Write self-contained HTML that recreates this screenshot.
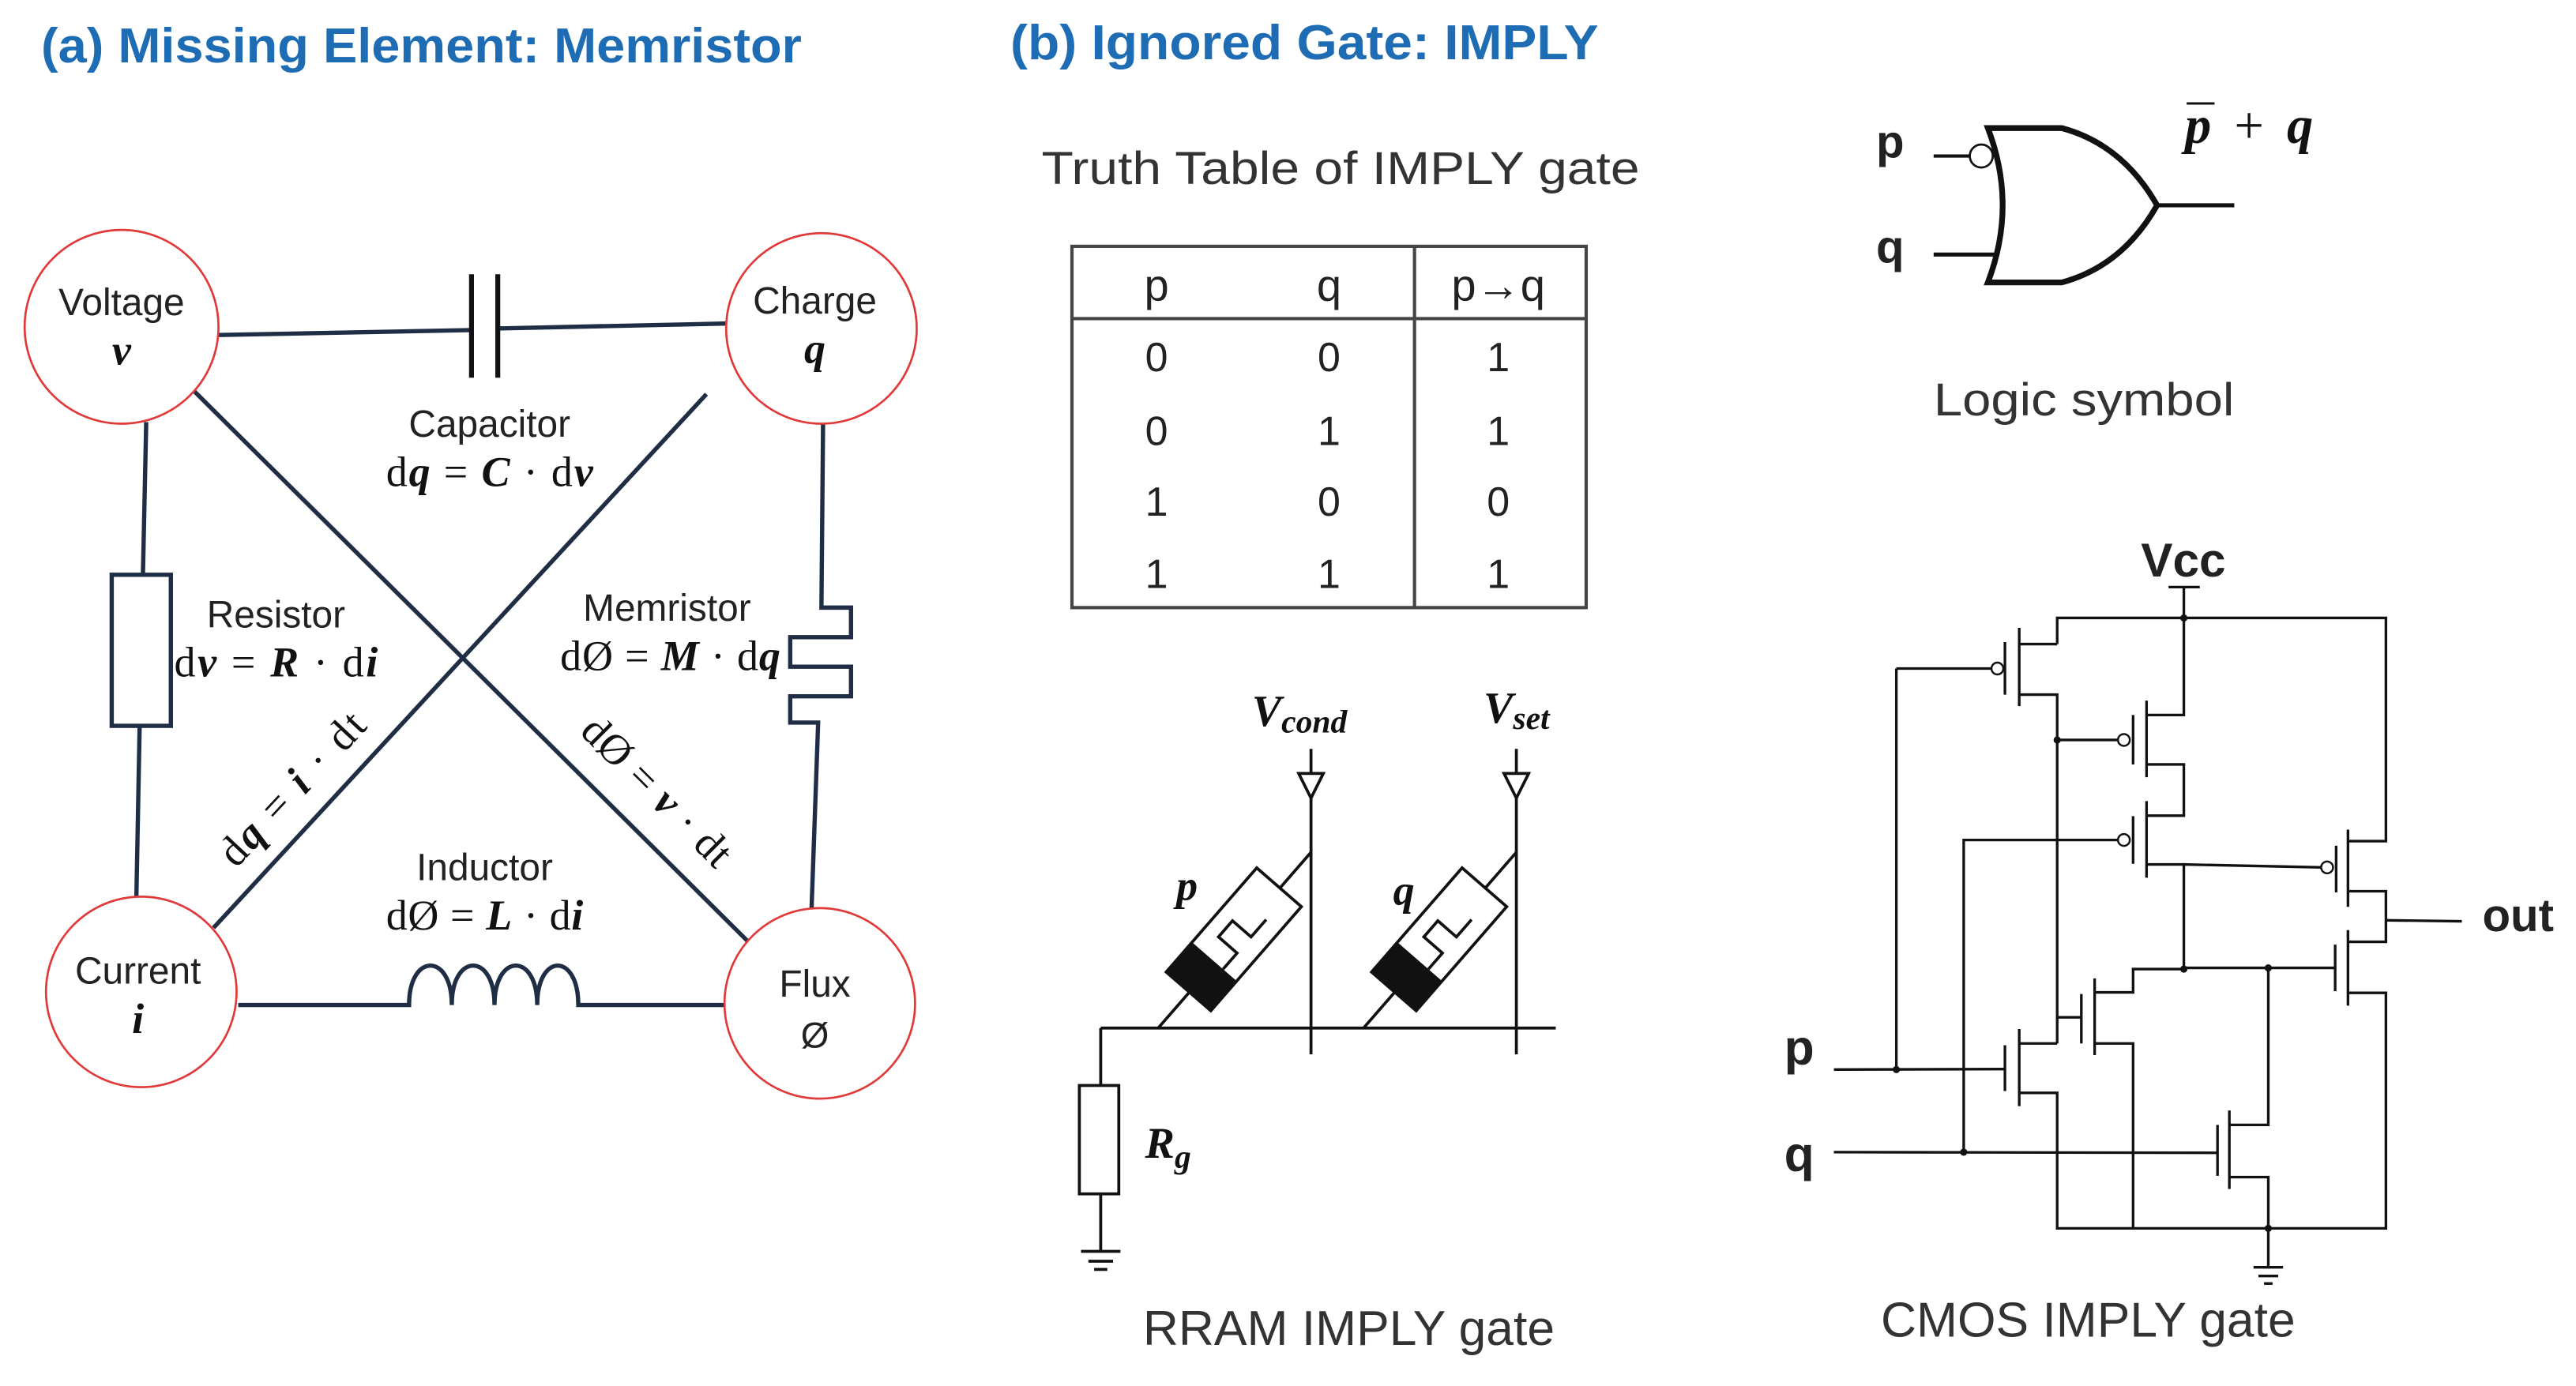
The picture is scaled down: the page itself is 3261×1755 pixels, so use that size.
<!DOCTYPE html>
<html><head><meta charset="utf-8"><style>
html,body{margin:0;padding:0;background:#fff;}
svg{display:block;}
.t{font-family:"Liberation Sans",sans-serif;fill:#222;}
.m{font-family:"Liberation Serif",serif;fill:#111;}
</style></head><body>
<svg width="3261" height="1755" viewBox="0 0 1568 844" xmlns="http://www.w3.org/2000/svg" preserveAspectRatio="none">
<rect width="1568" height="844" fill="#fff"/>
<!-- Titles -->
<text x="25" y="38" class="t" style="fill:#1e6db4;font-size:30px;font-weight:bold" textLength="463" lengthAdjust="spacingAndGlyphs">(a) Missing Element: Memristor</text>
<text x="615" y="36" class="t" style="fill:#1e6db4;font-size:30px;font-weight:bold" textLength="358" lengthAdjust="spacingAndGlyphs">(b) Ignored Gate: IMPLY</text>

<!-- Panel a lines -->
<g stroke="#1f2d45" stroke-width="2.6" fill="none">
<line x1="133" y1="204" x2="287" y2="201"/>
<line x1="303" y1="200" x2="442" y2="197"/>
<line x1="89" y1="257" x2="87" y2="350"/>
<rect x="68" y="350" width="36" height="92"/>
<line x1="85" y1="442" x2="83" y2="547"/>
<path d="M501,257 L500,370 H518 V388 H481 V406 H518 V424 H481 V440 H498 L494,553"/>
<line x1="118" y1="238" x2="455" y2="573"/>
<line x1="430" y1="240" x2="130" y2="565"/>
<path d="M145,612 H249 C249,580 275,580 275,612 C275,580 301,580 301,612 C301,580 327,580 327,612 C327,580 352,580 352,612 H441"/>
</g>
<g stroke="#111" stroke-width="3"><line x1="287" y1="167" x2="287" y2="230"/><line x1="303" y1="167" x2="303" y2="230"/></g>
<g stroke="#e03a3a" stroke-width="1.3" fill="#fff">
<ellipse cx="74" cy="199" rx="59" ry="59"/>
<ellipse cx="500" cy="200" rx="58" ry="58"/>
<ellipse cx="86" cy="604" rx="58" ry="58"/>
<ellipse cx="499" cy="611" rx="58" ry="58"/>
</g>
<g text-anchor="middle">
<text x="74" y="192" class="t" style="font-size:23px">Voltage</text>
<text x="74" y="222" class="m" style="font-size:26px;font-weight:bold;font-style:italic">v</text>
<text x="496" y="191" class="t" style="font-size:23px">Charge</text>
<text x="496" y="221" class="m" style="font-size:26px;font-weight:bold;font-style:italic">q</text>
<text x="84" y="599" class="t" style="font-size:23px">Current</text>
<text x="84" y="629" class="m" style="font-size:26px;font-weight:bold;font-style:italic">i</text>
<text x="496" y="607" class="t" style="font-size:23px">Flux</text>
<text x="496" y="638" class="t" style="font-size:22px">Ø</text>
<text x="298" y="266" class="t" style="font-size:23px">Capacitor</text>
<text x="298" y="296" class="m" style="font-size:26px" textLength="126" lengthAdjust="spacing">d<tspan font-weight="bold" font-style="italic">q</tspan> = <tspan font-weight="bold" font-style="italic">C</tspan> · d<tspan font-weight="bold" font-style="italic">v</tspan></text>
<text x="168" y="382" class="t" style="font-size:23px">Resistor</text>
<text x="168" y="412" class="m" style="font-size:26px" textLength="124" lengthAdjust="spacing">d<tspan font-weight="bold" font-style="italic">v</tspan> = <tspan font-weight="bold" font-style="italic">R</tspan> · d<tspan font-weight="bold" font-style="italic">i</tspan></text>
<text x="406" y="378" class="t" style="font-size:23px">Memristor</text>
<text x="408" y="408" class="m" style="font-size:26px" textLength="134" lengthAdjust="spacing">dØ = <tspan font-weight="bold" font-style="italic">M</tspan> · d<tspan font-weight="bold" font-style="italic">q</tspan></text>
<text x="295" y="536" class="t" style="font-size:23px">Inductor</text>
<text x="295" y="566" class="m" style="font-size:26px" textLength="120" lengthAdjust="spacing">dØ = <tspan font-weight="bold" font-style="italic">L</tspan> · d<tspan font-weight="bold" font-style="italic">i</tspan></text>
<text x="0" y="0" class="m" style="font-size:26px" transform="translate(184,486) rotate(-47)" textLength="118" lengthAdjust="spacing">d<tspan font-weight="bold" font-style="italic">q</tspan> = <tspan font-weight="bold" font-style="italic">i</tspan> · dt</text>
<text x="0" y="0" class="m" style="font-size:26px" transform="translate(394,488) rotate(45)" textLength="118" lengthAdjust="spacing">dØ = <tspan font-weight="bold" font-style="italic">v</tspan> · dt</text>
</g>

<!-- Truth table -->
<text x="634" y="112" class="t" style="font-size:28px;fill:#333" textLength="364" lengthAdjust="spacingAndGlyphs">Truth Table of IMPLY gate</text>
<g stroke="#444" stroke-width="2" fill="none">
<rect x="652.5" y="150" width="313" height="220"/>
<line x1="652" y1="194" x2="966" y2="194"/>
<line x1="861" y1="150" x2="861" y2="370"/>
</g>
<g class="t" style="font-size:25px" text-anchor="middle">
<text x="704" y="183" style="font-size:27px">p</text><text x="809" y="183" style="font-size:27px">q</text><text x="912" y="183" style="font-size:27px">p→q</text>
<text x="704" y="226">0</text><text x="809" y="226">0</text><text x="912" y="226">1</text>
<text x="704" y="271">0</text><text x="809" y="271">1</text><text x="912" y="271">1</text>
<text x="704" y="314">1</text><text x="809" y="314">0</text><text x="912" y="314">0</text>
<text x="704" y="358">1</text><text x="809" y="358">1</text><text x="912" y="358">1</text>
</g>

<!-- Logic symbol -->
<g stroke="#111" fill="none">
<path d="M1210,78 H1255 Q1292,88 1313,125 Q1292,162 1255,172 H1210 Q1228,125 1210,78 Z" stroke-width="3.5"/>
<line x1="1313" y1="125" x2="1360" y2="125" stroke-width="2.5"/>
<line x1="1177" y1="95" x2="1199" y2="95" stroke-width="2"/>
<line x1="1177" y1="155" x2="1216" y2="155" stroke-width="2.5"/>
<circle cx="1206" cy="95" r="7" stroke-width="1.3" fill="#fff"/>
</g>
<text x="1142" y="96" class="t" style="font-size:28px;font-weight:bold">p</text>
<text x="1142" y="160" class="t" style="font-size:28px;font-weight:bold">q</text>
<text x="1330" y="87" class="m" style="font-size:32px;font-weight:bold;font-style:italic" textLength="78" lengthAdjust="spacing">p <tspan font-style="normal" font-weight="normal">+</tspan> q</text>
<line x1="1331" y1="63" x2="1348" y2="63" stroke="#111" stroke-width="1.5"/>
<text x="1177" y="253" class="t" style="font-size:28px;fill:#333" textLength="183" lengthAdjust="spacingAndGlyphs">Logic symbol</text>

<!-- RRAM -->
<g stroke="#111" stroke-width="1.8" fill="none">
<line x1="798" y1="456" x2="798" y2="642"/>
<line x1="923" y1="456" x2="923" y2="642"/>
<polygon points="790.5,471 805.5,471 798,486" fill="#fff"/>
<polygon points="915.5,471 930.5,471 923,486" fill="#fff"/>
<line x1="670" y1="626" x2="947" y2="626"/>
<line x1="670" y1="626" x2="670" y2="661"/>
<rect x="657" y="661" width="24" height="66"/>
<line x1="670" y1="727" x2="670" y2="762"/>
<line x1="658" y1="762" x2="682" y2="762"/>
<line x1="662.5" y1="768" x2="677.5" y2="768"/>
<line x1="666" y1="773" x2="674" y2="773"/>
<line x1="705" y1="626" x2="798" y2="519"/>
<line x1="830" y1="626" x2="923" y2="519"/>
</g>
<g transform="translate(751,572) rotate(-49)">
<rect x="-42" y="-18" width="84" height="36" fill="#fff" stroke="#111" stroke-width="1.8"/>
<rect x="-42" y="-18" width="24" height="36" fill="#111"/>
<path d="M-18,7 H-5 V-8 H8 V7 H22" fill="none" stroke="#111" stroke-width="1.8"/>
</g>
<g transform="translate(876,572) rotate(-49)">
<rect x="-42" y="-18" width="84" height="36" fill="#fff" stroke="#111" stroke-width="1.8"/>
<rect x="-42" y="-18" width="24" height="36" fill="#111"/>
<path d="M-18,7 H-5 V-8 H8 V7 H22" fill="none" stroke="#111" stroke-width="1.8"/>
</g>
<text x="716" y="548" class="m" style="font-size:26px;font-weight:bold;font-style:italic">p</text>
<text x="848" y="551" class="m" style="font-size:26px;font-weight:bold;font-style:italic">q</text>
<text x="762" y="442" class="m" style="font-size:27px;font-weight:bold;font-style:italic">V<tspan font-size="20" dy="4">cond</tspan></text>
<text x="903" y="440" class="m" style="font-size:27px;font-weight:bold;font-style:italic">V<tspan font-size="20" dy="4">set</tspan></text>
<text x="697" y="705" class="m" style="font-size:27px;font-weight:bold;font-style:italic">R<tspan font-size="20" dy="6">g</tspan></text>
<text x="821" y="819" class="t" style="font-size:30px;fill:#333" text-anchor="middle">RRAM IMPLY gate</text>

<!-- CMOS -->
<g stroke="#111" stroke-width="1.6" fill="none">
<line x1="1320" y1="357.5" x2="1339" y2="357.5"/>
<line x1="1329.3" y1="357.5" x2="1329.3" y2="376.3"/>
<polyline points="1252.2,392.2 1252.2,376.3 1452.3,376.3 1452.3,512.2 1429.2,512.2"/>
<line x1="1229.1" y1="382.3" x2="1229.1" y2="430"/>
<line x1="1220.4" y1="391" x2="1220.4" y2="423"/>
<line x1="1229.1" y1="392.2" x2="1252.2" y2="392.2"/>
<polyline points="1229.1,423 1252.2,423 1252.2,635.4"/>
<line x1="1154.3" y1="407.1" x2="1212.2" y2="407.1"/>
<line x1="1154.3" y1="407.1" x2="1154.3" y2="651.3"/>
<line x1="1306.6" y1="426.6" x2="1306.6" y2="473.3"/>
<line x1="1298.4" y1="435.4" x2="1298.4" y2="465.5"/>
<polyline points="1306.6,435.4 1329.3,435.4 1329.3,376.3"/>
<polyline points="1306.6,465.5 1329.3,465.5 1329.3,496.7 1306.6,496.7"/>
<line x1="1252.2" y1="450.6" x2="1289.3" y2="450.6"/>
<line x1="1306.6" y1="487.8" x2="1306.6" y2="534.5"/>
<line x1="1298.4" y1="497" x2="1298.4" y2="526"/>
<polyline points="1306.6,526.4 1329.3,526.4 1329.3,590.1"/>
<line x1="1329.3" y1="526.4" x2="1413" y2="528.2"/>
<polyline points="1195.3,701.6 1195.3,511.5 1289.3,511.5"/>
<line x1="1429.2" y1="505.2" x2="1429.2" y2="552.2"/>
<line x1="1422" y1="515" x2="1422" y2="543.4"/>
<polyline points="1429.2,542.7 1452.3,542.7 1452.3,573.5 1429.2,573.5"/>
<line x1="1452.3" y1="560.4" x2="1498.5" y2="561"/>
<line x1="1429.2" y1="566.4" x2="1429.2" y2="612.4"/>
<line x1="1421.4" y1="575.2" x2="1421.4" y2="603.6"/>
<polyline points="1429.2,604.6 1452.3,604.6 1452.3,748 1252.2,748 1252.2,665.5 1229.1,665.5"/>
<line x1="1329.3" y1="589.4" x2="1421.4" y2="589.4"/>
<line x1="1275" y1="595.8" x2="1275" y2="642.5"/>
<line x1="1266.9" y1="605.3" x2="1266.9" y2="635.4"/>
<polyline points="1275,604.3 1298.4,604.3 1298.4,590.1 1329.3,590.1"/>
<polyline points="1275,635.4 1298.4,635.4 1298.4,748"/>
<line x1="1252.2" y1="619.5" x2="1266.9" y2="619.5"/>
<line x1="1229.1" y1="626.6" x2="1229.1" y2="673.6"/>
<line x1="1220.4" y1="636.5" x2="1220.4" y2="664.4"/>
<line x1="1229.1" y1="635.4" x2="1252.2" y2="635.4"/>
<line x1="1116.3" y1="651.3" x2="1220.4" y2="651"/>
<line x1="1357" y1="676.2" x2="1357" y2="724"/>
<line x1="1349.8" y1="685" x2="1349.8" y2="716"/>
<polyline points="1357,685 1380.7,685 1380.7,589.4"/>
<polyline points="1357,716.8 1380.7,716.8 1380.7,771.7"/>
<line x1="1116.3" y1="701.6" x2="1349.8" y2="702"/>
<line x1="1371.7" y1="771.7" x2="1389.7" y2="771.7"/>
<line x1="1374.7" y1="777" x2="1386.7" y2="777"/>
<line x1="1378.1" y1="781.6" x2="1383.3" y2="781.6"/>
</g>
<g stroke="#111" stroke-width="1.2" fill="#fff">
<circle cx="1215.8" cy="407.1" r="3.6"/>
<circle cx="1292.8" cy="450.6" r="3.6"/>
<circle cx="1292.8" cy="511.5" r="3.6"/>
<circle cx="1416.5" cy="528.2" r="3.6"/>
</g>
<g fill="#111">
<circle cx="1329.3" cy="376.3" r="2.2"/>
<circle cx="1252.2" cy="450.6" r="2.2"/>
<circle cx="1329.3" cy="590.1" r="2.2"/>
<circle cx="1380.7" cy="589.4" r="2.2"/>
<circle cx="1154.3" cy="651.3" r="2.2"/>
<circle cx="1195.3" cy="701.6" r="2.2"/>
<circle cx="1380.7" cy="748" r="2.2"/>
</g>
<text x="1329" y="351" class="t" style="font-size:29px;font-weight:bold" text-anchor="middle">Vcc</text>
<text x="1511" y="567" class="t" style="font-size:28px;font-weight:bold">out</text>
<text x="1086" y="648" class="t" style="font-size:30px;font-weight:bold">p</text>
<text x="1086" y="713" class="t" style="font-size:30px;font-weight:bold">q</text>
<text x="1271" y="814" class="t" style="font-size:30px;fill:#333" text-anchor="middle">CMOS IMPLY gate</text>
</svg>
</body></html>
